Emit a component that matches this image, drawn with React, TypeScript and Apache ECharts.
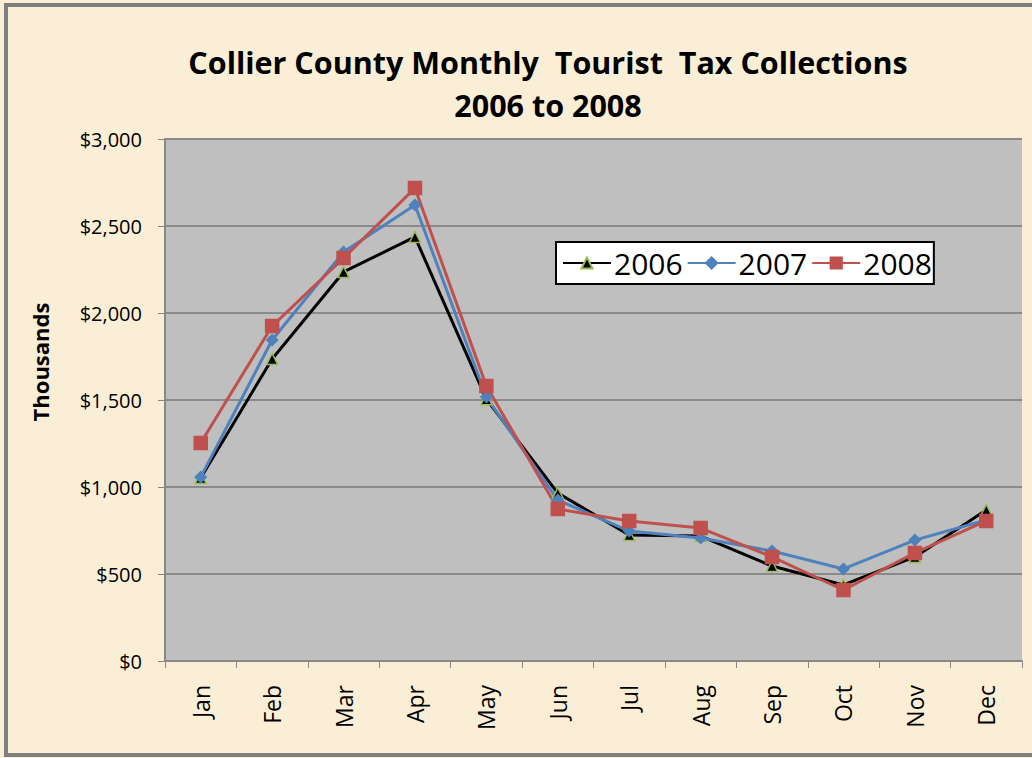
import React, { useEffect, useRef } from "react";
import * as echarts from "echarts";

const months = ["Jan", "Feb", "Mar", "Apr", "May", "Jun", "Jul", "Aug", "Sep", "Oct", "Nov", "Dec"];
const values2006 = [1052, 1736, 2236, 2437, 1505, 965, 724, 718, 546, 437, 598, 868];
const values2007 = [1057, 1845, 2350, 2621, 1517, 925, 747, 707, 632, 529, 695, 810];
const values2008 = [1253, 1925, 2316, 2718, 1580, 873, 805, 764, 598, 408, 621, 805];
const titleLines = ["Collier County Monthly  Tourist  Tax Collections", "2006 to 2008"];

const FONT = "'Open Sans', 'Noto Sans', sans-serif";

export default function App() {
  const ref = useRef<HTMLDivElement>(null);
  useEffect(() => {
    document.body.style.margin = "0";
    const chart = echarts.init(ref.current!, null, { renderer: "svg" });
    const mk = (name: string, data: number[], color: string, symbol: string, symbolSize: number, markerColor: string, markerBorder: string) => ({
      name,
      type: "line",
      data,
      symbol,
      symbolSize,
      lineStyle: { color, width: 3 },
      itemStyle: { color: markerColor, borderColor: markerBorder, borderWidth: 1.5 },
      z: 3,
    });
    chart.setOption({
      animation: false,
      backgroundColor: "#FAEFD6",
      textStyle: { fontFamily: FONT },
      graphic: [
        {
          type: "rect",
          shape: { x: 6, y: 5, width: 1040, height: 750 },
          style: { fill: "none", stroke: "#7F7F7F", lineWidth: 4 },
          z: 0,
        },
        {
          type: "text",
          x: 548,
          y: 40,
          style: {
            text: titleLines.join("\n"),
            font: `bold 30.5px ${FONT}`,
            fill: "#000",
            textAlign: "center",
            lineHeight: 43,
          },
        },
        {
          type: "text",
          x: 40,
          y: 362,
          rotation: Math.PI / 2,
          style: {
            text: "Thousands",
            font: `bold 22px ${FONT}`,
            fill: "#000",
            textAlign: "center",
            textVerticalAlign: "middle",
          },
        },
      ],
      legend: {
        left: 556,
        top: 242,
        itemGap: 4,
        itemWidth: 48,
        itemHeight: 14,
        padding: [4, 2, 4, 6],
        backgroundColor: "#fff",
        borderColor: "#000",
        borderWidth: 2,
        textStyle: { fontSize: 30, lineHeight: 34, color: "#000", fontFamily: FONT, padding: [0, 0, 0, -2] },
        data: ["2006", "2007", "2008"],
      },
      grid: { left: 165, right: 10, top: 139, bottom: 97, backgroundColor: "#BFBFBF", show: true, borderWidth: 0 },
      xAxis: {
        type: "category",
        data: months,
        boundaryGap: true,
        axisLine: { lineStyle: { color: "#888", width: 2 } },
        axisTick: { show: true, length: 7, lineStyle: { color: "#888" } },
        axisLabel: { rotate: 90, fontSize: 23, color: "#000", margin: 24, fontFamily: FONT },
        splitLine: { show: false },
      },
      yAxis: {
        type: "value",
        min: 0,
        max: 3000,
        interval: 500,
        axisLine: { show: true, lineStyle: { color: "#888", width: 2 } },
        axisTick: { show: true, length: 7, lineStyle: { color: "#888" } },
        axisLabel: {
          fontSize: 20,
          color: "#000",
          margin: 23,
          fontFamily: FONT,
          formatter: (v: number) => "$" + v.toLocaleString("en-US"),
        },
        splitLine: { lineStyle: { color: "#8A8A8A", width: 2 } },
      },
      series: [
        mk("2006", values2006, "#000000", "triangle", 11, "#000000", "#9BBB59"),
        mk("2007", values2007, "#4F81BD", "diamond", 11, "#4F81BD", "#4F81BD"),
        mk("2008", values2008, "#C0504D", "rect", 13, "#C0504D", "#C0504D"),
      ],
    });
    return () => chart.dispose();
  }, []);
  return <div ref={ref} style={{ position: "absolute", left: 0, top: 0, width: 1032, height: 758 }} />;
}
